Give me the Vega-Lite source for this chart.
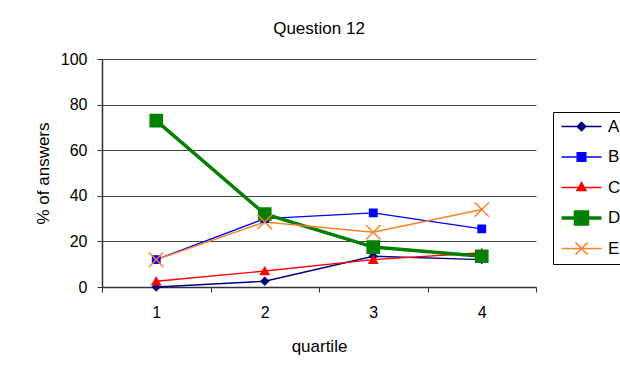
{
  "$schema": "https://vega.github.io/schema/vega-lite/v6.json",
  "width": 434,
  "height": 228,
  "autosize": {"type": "none"},
  "padding": {"left": 102, "top": 59, "right": 84, "bottom": 90},
  "background": "white",
  "title": {"text": "Question 12", "fontSize": 17, "font": "Liberation Sans", "fontWeight": "normal", "color": "#000000", "anchor": "middle", "offset": 13},
  "config": {"view": {"stroke": null}, "font": "Liberation Sans"},
  "data": {"values": [
    {"quartile": 1, "series": "A", "value": 0},
    {"quartile": 2, "series": "A", "value": 2.5},
    {"quartile": 3, "series": "A", "value": 13.5},
    {"quartile": 4, "series": "A", "value": 12},
    {"quartile": 1, "series": "B", "value": 12},
    {"quartile": 2, "series": "B", "value": 30},
    {"quartile": 3, "series": "B", "value": 32.5},
    {"quartile": 4, "series": "B", "value": 25.5},
    {"quartile": 1, "series": "C", "value": 2.5},
    {"quartile": 2, "series": "C", "value": 7},
    {"quartile": 3, "series": "C", "value": 12},
    {"quartile": 4, "series": "C", "value": 15},
    {"quartile": 1, "series": "D", "value": 73},
    {"quartile": 2, "series": "D", "value": 32},
    {"quartile": 3, "series": "D", "value": 17.5},
    {"quartile": 4, "series": "D", "value": 13.5},
    {"quartile": 1, "series": "E", "value": 12},
    {"quartile": 2, "series": "E", "value": 28.5},
    {"quartile": 3, "series": "E", "value": 24},
    {"quartile": 4, "series": "E", "value": 34}
  ]},
  "encoding": {
    "x": {"field": "quartile", "type": "quantitative",
      "scale": {"domain": [0.5, 4.5], "nice": false, "zero": false},
      "axis": {"values": [0.5, 1, 1.5, 2, 2.5, 3, 3.5, 4, 4.5],
        "labelExpr": "datum.value % 1 === 0 ? format(datum.value, 'd') : ''",
        "tickOpacity": {"condition": {"test": "datum.value % 1 !== 0", "value": 1}, "value": 0},
        "labelOverlap": false, "labelFlush": false, "grid": false,
        "tickSize": 5, "tickColor": "#333333", "domainColor": "#333333", "domainWidth": 1.5,
        "labelFontSize": 16, "labelColor": "#000000", "labelPadding": 12,
        "title": "quartile", "titleFontSize": 17, "titleFontWeight": "normal", "titleColor": "#000000", "titlePadding": 18}},
    "y": {"field": "value", "type": "quantitative",
      "scale": {"domain": [0, 100], "nice": false},
      "axis": {"values": [0, 20, 40, 60, 80, 100], "grid": true, "gridColor": "#444444", "gridWidth": 1,
        "tickSize": 5, "tickColor": "#333333", "domainColor": "#333333", "domainWidth": 1.5,
        "labelFontSize": 16, "labelColor": "#000000", "labelPadding": 10,
        "title": "% of answers", "titleFontSize": 17, "titleFontWeight": "normal", "titleColor": "#000000", "titlePadding": 8}}
  },
  "layer": [
    {
      "mark": {"type": "line"},
      "encoding": {
        "color": {"field": "series", "type": "nominal",
          "scale": {"domain": ["A", "B", "C", "D", "E"], "range": ["#000080", "#0000ff", "#ff0000", "#008000", "#ff8020"]},
          "legend": {"title": null, "orient": "none", "legendX": 451, "legendY": 53,
            "padding": 6, "strokeColor": "#000000", "fillColor": "#ffffff", "cornerRadius": 0,
            "gridAlign": "all",
            "symbolSize": 400, "symbolStrokeWidth": 1.5, "symbolOffset": 14, "labelOffset": 18, "rowPadding": 3.5,
            "labelFontSize": 17, "labelColor": "#000000", "labelFont": "Liberation Sans",
            "encode": {"symbols": {"update": {
              "shape": {"signal": "datum.value==='A' ? 'M-2,0L2,0M0,-0.43L0.43,0L0,0.43L-0.43,0Z' : datum.value==='B' ? 'M-2,0L2,0M-0.43,-0.43L0.43,-0.43L0.43,0.43L-0.43,0.43Z' : datum.value==='C' ? 'M-2,0L2,0M0,-0.5L0.45,0.3L-0.45,0.3Z' : datum.value==='D' ? 'M-2,0L2,0M-0.6,-0.6L0.6,-0.6L0.6,0.6L-0.6,0.6Z' : 'M-2,0L2,0M-0.6,-0.6L0.6,0.6M0.6,-0.6L-0.6,0.6'"},
              "fill": {"signal": "datum.value==='A' ? '#000080' : datum.value==='B' ? '#0000ff' : datum.value==='C' ? '#ff0000' : datum.value==='D' ? '#008000' : 'transparent'"},
              "stroke": {"signal": "datum.value==='A' ? '#000080' : datum.value==='B' ? '#0000ff' : datum.value==='C' ? '#ff0000' : datum.value==='D' ? '#008000' : '#ff8020'"},
              "strokeWidth": {"signal": "datum.value==='D' ? 3.5 : 1.5"},
              "opacity": {"value": 1}
            }}}}},
        "strokeWidth": {"condition": {"test": "datum.series === 'D'", "value": 3.5}, "value": 1.4}
      }
    },
    {
      "mark": {"type": "point", "filled": true, "opacity": 1, "strokeWidth": 1.4},
      "encoding": {
        "shape": {"condition": [
          {"test": "datum.series === 'A'", "value": "diamond"},
          {"test": "datum.series === 'C'", "value": "triangle-up"},
          {"test": "datum.series === 'E'", "value": "M-1,-1L1,1M-1,1L1,-1"}
        ], "value": "square"},
        "fill": {"condition": [
          {"test": "datum.series === 'A'", "value": "#000080"},
          {"test": "datum.series === 'B'", "value": "#0000ff"},
          {"test": "datum.series === 'C'", "value": "#ff0000"},
          {"test": "datum.series === 'D'", "value": "#008000"}
        ], "value": "transparent"},
        "stroke": {"condition": [
          {"test": "datum.series === 'A'", "value": "#000080"},
          {"test": "datum.series === 'B'", "value": "#0000ff"},
          {"test": "datum.series === 'C'", "value": "#ff0000"},
          {"test": "datum.series === 'D'", "value": "#008000"}
        ], "value": "#ff8020"},
        "size": {"condition": [
          {"test": "datum.series === 'D'", "value": 150},
          {"test": "datum.series === 'E'", "value": 210},
          {"test": "datum.series === 'C'", "value": 70}
        ], "value": 55}
      }
    }
  ]
}
